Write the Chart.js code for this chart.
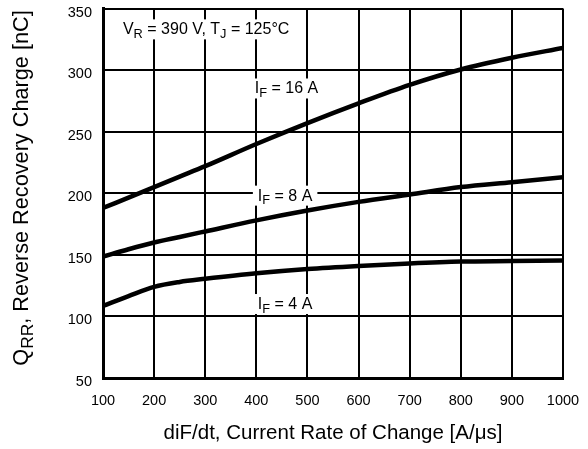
<!DOCTYPE html>
<html>
<head>
<meta charset="utf-8">
<script src="https://cdn.jsdelivr.net/npm/chart.js@4.4.1/dist/chart.umd.min.js"></script>
<style>
  html, body { margin: 0; padding: 0; background: #fff; }
  #wrap { width: 588px; height: 449px; }
</style>
</head>
<body>
<div id="wrap"><canvas id="qrrChart"></canvas></div>
<script>
// diF/dt in A/us and read-off Qrr values in nC
const diFdt  = [100, 150, 200, 250, 300, 400, 500, 600, 700, 800, 900, 1000];
const qrr16A = [188, 196.5, 205, 213.5, 222, 240, 257, 273, 288, 300.5, 310, 318];
const qrr8A  = [148.5, 154.5, 160, 164.5, 169, 178, 186, 193, 199, 205, 209, 213];
const qrr4A  = [108.5, 116.5, 124, 128, 130.5, 135, 138.5, 141, 143, 144.5, 145, 145.5];

const xTicks = [100, 200, 300, 400, 500, 600, 700, 800, 900, 1000];
const yTicks = [50, 100, 150, 200, 250, 300, 350];

const FONT = '"Liberation Sans", Arial, sans-serif';

const toPoints = (ys) => diFdt.map((x, i) => ({ x: x, y: ys[i] }));

// text with subscripts: each part is [text, isSub]
function richWidth(ctx, parts, size) {
    let w = 0;
    for (const [t, sub] of parts) {
        ctx.font = `${sub ? size * 0.8 : size}px ${FONT}`;
        w += ctx.measureText(t).width;
    }
    return w;
}

function drawRich(ctx, parts, x, y, size) {
    let cx = x;
    ctx.textBaseline = 'alphabetic';
    ctx.textAlign = 'left';
    for (const [t, sub] of parts) {
        ctx.font = `${sub ? size * 0.8 : size}px ${FONT}`;
        ctx.fillText(t, cx, sub ? y + size * 0.23 : y);
        cx += ctx.measureText(t).width;
    }
}

const notes = [
    { parts: [['V', 0], ['R', 1], [' = 390 V, T', 0], ['J', 1], [' = 125°C', 0]], x: 139, y: 329 },
    { parts: [['I', 0], ['F', 1], [' = 16 A', 0]], x: 397, y: 281 },
    { parts: [['I', 0], ['F', 1], [' = 8 A', 0]], x: 403, y: 194 },
    { parts: [['I', 0], ['F', 1], [' = 4 A', 0]], x: 403, y: 106 }
];

const notesPlugin = {
    id: 'notes',
    beforeDatasetsDraw(chart) {
        const { ctx, scales: { x, y } } = chart;
        const size = 16;
        ctx.save();
        notes.forEach(n => {
            const px = x.getPixelForValue(n.x);
            const py = y.getPixelForValue(n.y);
            const w = richWidth(ctx, n.parts, size);
            ctx.fillStyle = '#fff';
            ctx.fillRect(px - 5, py - 15, w + 10, 20);
            ctx.fillStyle = '#000';
            drawRich(ctx, n.parts, px, py, size);
        });
        ctx.restore();
    },
    afterDraw(chart) {
        // y axis title has a subscript, so it is drawn here
        const { ctx } = chart;
        const parts = [['Q', 0], ['RR', 1], [', Reverse Recovery Charge [nC]', 0]];
        const size = 21.7;
        ctx.save();
        const w = richWidth(ctx, parts, size);
        ctx.translate(28, 188);
        ctx.rotate(-Math.PI / 2);
        ctx.fillStyle = '#000';
        drawRich(ctx, parts, -w / 2, 0, size);
        ctx.restore();
    }
};

new Chart(document.getElementById('qrrChart'), {
    type: 'line',
    data: {
        datasets: [
            { label: 'IF = 16 A', data: toPoints(qrr16A) },
            { label: 'IF = 8 A', data: toPoints(qrr8A) },
            { label: 'IF = 4 A', data: toPoints(qrr4A) }
        ]
    },
    options: {
        responsive: true,
        maintainAspectRatio: false,
        animation: false,
        layout: { padding: { top: 8.5, right: 25, left: 0, bottom: 0 } },
        elements: {
            line: { borderColor: '#000', borderWidth: 4.5, cubicInterpolationMode: 'monotone', fill: false },
            point: { radius: 0, hoverRadius: 0 }
        },
        scales: {
            x: {
                type: 'linear',
                min: 100, max: 1000,
                afterFit: (s) => { s.height = 71; s.paddingLeft = 0; s.paddingRight = 0; },
                afterBuildTicks: (s) => { s.ticks = xTicks.map(v => ({ value: v })); },
                grid: { color: '#000', lineWidth: 2, drawTicks: false },
                border: { color: '#000', width: 3 },
                ticks: {
                    color: '#000', padding: 14, maxRotation: 0,
                    font: { family: FONT, size: 14.5 },
                    callback: (v) => String(v)
                },
                title: {
                    display: true,
                    text: 'diF/dt, Current Rate of Change [A/\u03bcs]',
                    color: '#000',
                    font: { family: FONT, size: 20.5 },
                    padding: { top: 0, bottom: 3 }
                }
            },
            y: {
                type: 'linear',
                min: 50, max: 350,
                afterFit: (s) => { s.width = 103; s.paddingTop = 0; s.paddingBottom = 0; },
                afterBuildTicks: (s) => { s.ticks = yTicks.map(v => ({ value: v })); },
                grid: { color: '#000', lineWidth: 2, drawTicks: false },
                border: { color: '#000', width: 3 },
                ticks: {
                    color: '#000', padding: 11, labelOffset: 4,
                    font: { family: FONT, size: 14.5 },
                    callback: (v) => String(v)
                }
            }
        },
        plugins: {
            legend: { display: false },
            tooltip: { enabled: false }
        }
    },
    plugins: [notesPlugin]
});
</script>
</body>
</html>
